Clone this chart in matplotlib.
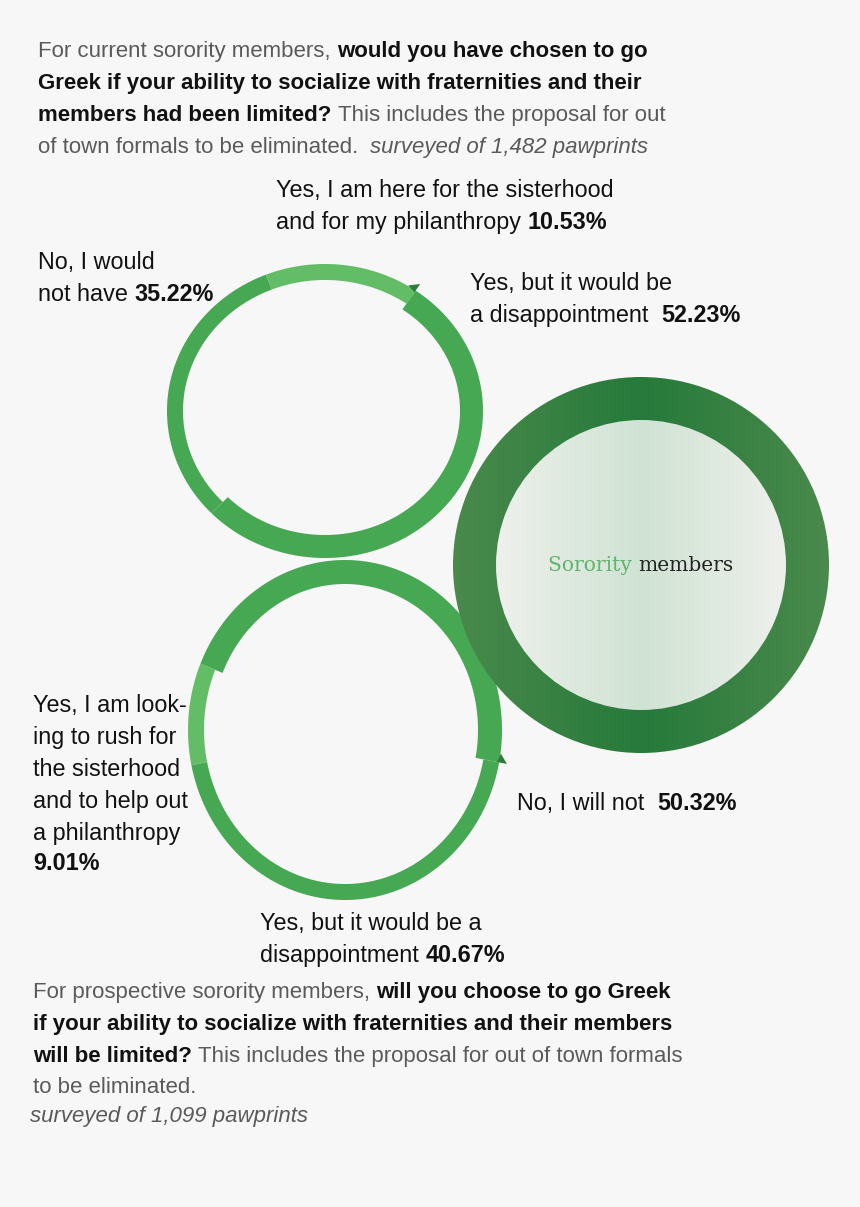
import numpy as np
import matplotlib
matplotlib.use("Agg")
import matplotlib.pyplot as plt
from matplotlib.patches import Circle, Polygon
from matplotlib.colors import LinearSegmentedColormap

W, H = 860, 1207
BG = "#f7f7f7"
LIGHT = "#62bd66"
MID = "#47a853"
DARK = "#2e7d3a"

# ring segments: (start_deg, end_deg, width, color), angles counter-clockwise from east
current_labels = ["Yes, I am here for the sisterhood and for my philanthropy",
                  "Yes, but it would be a disappointment", "No, I would not have"]
current_pcts = [10.53, 52.23, 35.22]
current_segs = [(55, 112, 16, LIGHT), (-136, 55, 23, MID), (112, 224, 16, MID)]

prospect_labels = ["Yes, I am looking to rush for the sisterhood and to help out a philanthropy",
                   "Yes, but it would be a disappointment", "No, I will not"]
prospect_pcts = [9.01, 40.67, 50.32]
prospect_segs = [(157, 192, 16, LIGHT), (-11, 157, 24, MID), (192, 349, 16, MID)]

plt.rcParams["font.family"] = ["Liberation Sans", "DejaVu Sans"]
fig = plt.figure(figsize=(W / 100, H / 100), dpi=100, facecolor=BG)
ax = fig.add_axes([0, 0, 1, 1])
ax.axis("off")


def ring(cx, cy, rx, ry, segs):
    # elliptical ring, screen y points down so angles are flipped
    for a0, a1, w, c in segs:
        t = np.deg2rad(np.linspace(a0, a1, 120))
        outer = np.c_[cx + rx * np.cos(t), cy - ry * np.sin(t)]
        inner = np.c_[cx + (rx - w) * np.cos(t[::-1]), cy - (ry - w) * np.sin(t[::-1])]
        ax.add_patch(Polygon(np.vstack([outer, inner]), color=c, lw=0))


def arrow(cx, cy, rx, ry, ang, size=9):
    t = np.deg2rad(ang)
    px, py = cx + rx * np.cos(t), cy - ry * np.sin(t)
    tx, ty = -np.sin(t), -np.cos(t)
    nx, ny = np.cos(t), -np.sin(t)
    pts = [(px + tx * size, py + ty * size), (px - nx * 2, py - ny * 2), (px + nx * 8, py + ny * 8)]
    ax.add_patch(Polygon(pts, color=DARK, lw=0))


ring(325, 411, 158, 147, current_segs)
arrow(325, 411, 158, 147, 55)
ring(345, 730, 157, 170, prospect_segs)
arrow(345, 730, 157, 170, -11)

# big gradient donut
cx, cy, R, r = 641, 565, 188, 145
xs = np.linspace(-1, 1, 256)
grad = np.abs(xs)[None, :]
cm_out = LinearSegmentedColormap.from_list("o", ["#267a3b", "#4a8a4c"])
cm_in = LinearSegmentedColormap.from_list("i", ["#cfe3d3", "#eef0ec"])
im = ax.imshow(grad, cmap=cm_out, extent=(cx - R, cx + R, cy + R, cy - R), zorder=1)
im.set_clip_path(Circle((cx, cy), R, transform=ax.transData))
im2 = ax.imshow(grad, cmap=cm_in, extent=(cx - r, cx + r, cy + r, cy - r), zorder=2)
im2.set_clip_path(Circle((cx, cy), r, transform=ax.transData))
ax.set_xlim(0, W)
ax.set_ylim(H, 0)
ax.set_aspect("auto")
ax.text(cx - 3, cy + 6, "Sorority ", ha="right", va="baseline", fontsize=14.5,
        family="DejaVu Serif", color="#5fb36a", zorder=3)
ax.text(cx - 3, cy + 6, "members", ha="left", va="baseline", fontsize=14.5,
        family="DejaVu Serif", color="#222222", zorder=3)

renderer = fig.canvas.get_renderer()


def runs(x, y, parts, size=16):
    for txt, weight, style, color in parts:
        t = ax.text(x, y, txt, ha="left", va="baseline", fontsize=size,
                    fontweight=weight, fontstyle=style, color=color)
        x += t.get_window_extent(renderer=renderer).width


G, B = "#5a5a5a", "#111111"
n, b, i = "normal", "bold", "italic"
LS = 16.8

# header
runs(38, 57, [("For current sorority members, ", n, "normal", G),
              ("would you have chosen to go", b, "normal", B)])
runs(38, 89, [("Greek if your ability to socialize with fraternities and their", b, "normal", B)])
runs(38, 121, [("members had been limited? ", b, "normal", B),
               ("This includes the proposal for out", n, "normal", G)])
runs(38, 153, [("of town formals to be eliminated.  ", n, "normal", G),
               ("surveyed of 1,482 pawprints", n, i, G)])

# labels
runs(276, 197, [("Yes, I am here for the sisterhood", n, "normal", B)], LS)
runs(276, 229, [("and for my philanthropy ", n, "normal", B), (f"{current_pcts[0]:.2f}%", b, "normal", B)], LS)
runs(38, 269, [("No, I would", n, "normal", B)], LS)
runs(38, 301, [("not have ", n, "normal", B), (f"{current_pcts[2]:.2f}%", b, "normal", B)], LS)
runs(470, 290, [("Yes, but it would be", n, "normal", B)], LS)
runs(470, 322, [("a disappointment  ", n, "normal", B), (f"{current_pcts[1]:.2f}%", b, "normal", B)], LS)

left_lines = ["Yes, I am look-", "ing to rush for", "the sisterhood", "and to help out", "a philanthropy"]
for k, line in enumerate(left_lines):
    runs(33, 712 + 32 * k, [(line, n, "normal", B)], LS)
runs(33, 870, [(f"{prospect_pcts[0]:.2f}%", b, "normal", B)], LS)
runs(517, 810, [("No, I will not  ", n, "normal", B), (f"{prospect_pcts[2]:.2f}%", b, "normal", B)], LS)
runs(260, 930, [("Yes, but it would be a", n, "normal", B)], LS)
runs(260, 962, [("disappointment ", n, "normal", B), (f"{prospect_pcts[1]:.2f}%", b, "normal", B)], LS)

# footer
runs(33, 998, [("For prospective sorority members, ", n, "normal", G),
               ("will you choose to go Greek", b, "normal", B)])
runs(33, 1030, [("if your ability to socialize with fraternities and their members", b, "normal", B)])
runs(33, 1062, [("will be limited? ", b, "normal", B),
                ("This includes the proposal for out of town formals", n, "normal", G)])
runs(33, 1093, [("to be eliminated.", n, "normal", G)])
runs(30, 1122, [("surveyed of 1,099 pawprints", n, i, G)])

fig.savefig("out.png", dpi=100, facecolor=BG)
